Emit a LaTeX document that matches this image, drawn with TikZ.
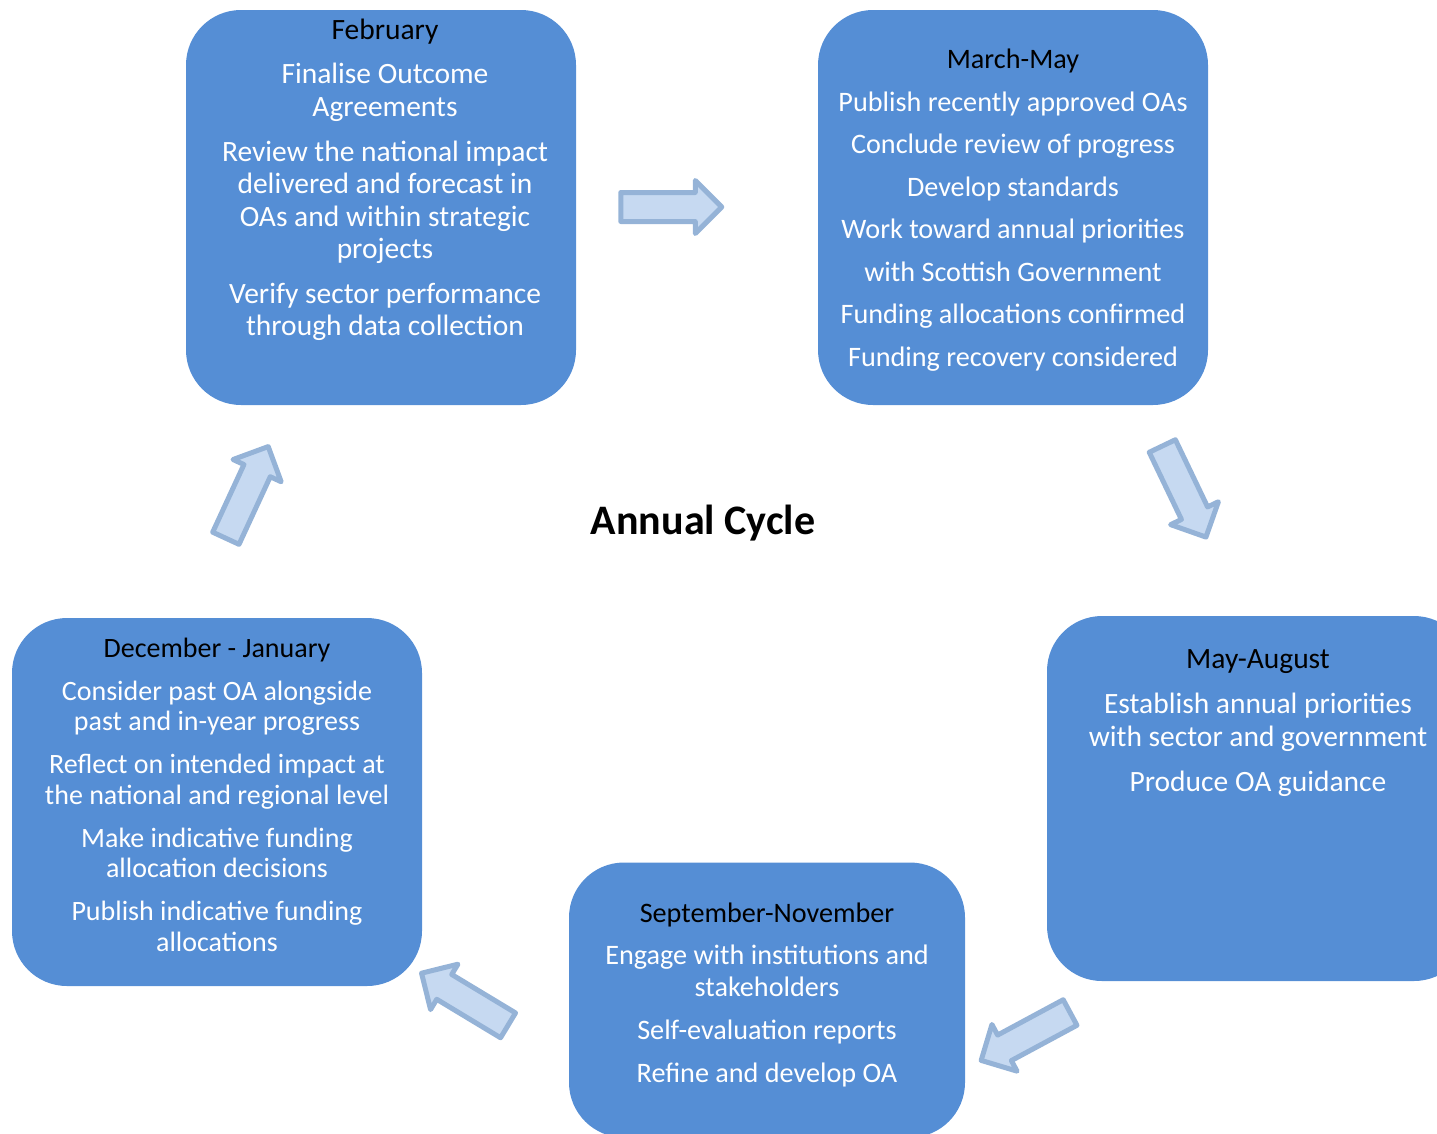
\documentclass[tikz,border=0pt]{standalone}
\usepackage{fontspec}
\setmainfont{Carlito}
\usepackage{xcolor}
\usepackage{tikz}
\usetikzlibrary{shapes.arrows,positioning}
\definecolor{stageblue}{RGB}{85,142,213}
\definecolor{arrowfill}{RGB}{198,217,241}
\definecolor{arrowline}{RGB}{149,179,215}
\tikzset{
  stage/.style={rectangle,rounded corners=55pt,fill=stageblue,draw=none,inner sep=0pt},
  stagetext/.style={anchor=north,inner sep=0pt,align=center,text=white,
              font=\fontsize{29.5}{32.5}\selectfont},
  smalltext/.style={stagetext,font=\fontsize{28}{30.5}\selectfont},
  listtext/.style={stagetext,font=\fontsize{28.2}{32}\selectfont},
  cyclearrow/.style={single arrow,draw=arrowline,fill=arrowfill,line width=5pt,line join=round,
              inner xsep=0pt,inner ysep=12pt,minimum height=101pt,minimum width=48pt,
              single arrow head extend=12pt},
}

\begin{document}
\begin{tikzpicture}[x=1pt,y=-1pt]
  \useasboundingbox (0,0) rectangle (1437,1133);

  % stages of the year
  \node[stage,minimum width=390pt,minimum height=395pt] (feb) at (381,207.5) {};
  \node[stage,minimum width=390pt,minimum height=395pt] (marmay) at (1013,207.5) {};
  \node[stage,minimum width=422pt,minimum height=365pt] (mayaug) at (1258,798.5) {};
  \node[stage,minimum width=396pt,minimum height=275pt] (sepnov) at (767,1000) {};
  \node[stage,minimum width=410pt,minimum height=368pt] (decjan) at (217,802) {};

  \node[stagetext,below=9.5pt of feb.north,xshift=4pt] (febtxt) {\textcolor{black}{February}\\[11.5pt]
    Finalise Outcome\\Agreements\\[12.5pt]
    Review the national impact\\delivered and forecast in\\OAs and within strategic\\projects\\[12pt]
    Verify sector performance\\through data collection};
  \node[listtext,below=39pt of marmay.north] (marmaytxt) {\textcolor{black}{March-May}\\[10.5pt]
    Publish recently approved OAs\\[10.5pt]
    Conclude review of progress\\[10.5pt]
    Develop standards\\[10.5pt]
    Work toward annual priorities\\[10.5pt]
    with Scottish Government\\[10.5pt]
    Funding allocations confirmed\\[10.5pt]
    Funding recovery considered};
  \node[stagetext,below=34pt of mayaug.north] (mayaugtxt) {\textcolor{black}{May-August}\\[12.5pt]
    Establish annual priorities\\with sector and government\\[12.5pt]
    Produce OA guidance};
  \node[listtext,below=40pt of sepnov.north] (sepnovtxt) {\textcolor{black}{September-November}\\[10.5pt]
    Engage with institutions and\\stakeholders\\[11pt]
    Self-evaluation reports\\[10.5pt]
    Refine and develop OA};
  \node[smalltext,below=20pt of decjan.north] (decjantxt) {\textcolor{black}{December - January}\\[12.3pt]
    Consider past OA alongside\\past and in-year progress\\[12.3pt]
    Reflect on intended impact at\\the national and regional level\\[12.5pt]
    Make indicative funding\\allocation decisions\\[12.5pt]
    Publish indicative funding\\allocations};

  \node[font=\fontsize{42}{48}\selectfont\bfseries] (title) at (703,523) {Annual Cycle};

  % arrows between stages
  \node[cyclearrow] (a1) at (664,207) {};
  \node[cyclearrow,rotate=-64.4] (a2) at (1181,485) {};
  \node[cyclearrow,rotate=-151.7] (a3) at (1032,1033) {};
  \node[cyclearrow,rotate=148.9] (a4) at (471,1003) {};
  \node[cyclearrow,rotate=65.2] (a5) at (244,499) {};
\end{tikzpicture}
\end{document}
